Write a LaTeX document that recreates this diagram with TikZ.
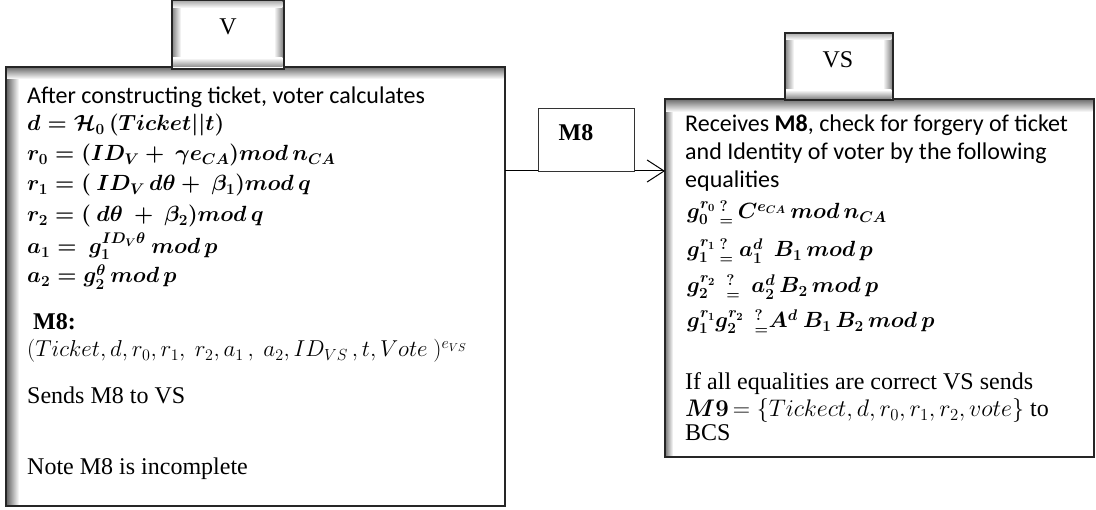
\RequirePackage{fix-cm}
\documentclass[tikz,border=0pt]{standalone}
\usepackage{amsmath}
\usepackage{fontspec}
\setmainfont{Liberation Serif}
\newfontfamily\calib{Carlito}
\usetikzlibrary{arrows.meta}
\begin{document}
\begin{tikzpicture}[x=1pt,y=-1pt,
  box/.style={draw=black!85, line width=1.3pt, fill=white, inner sep=0pt, anchor=north west},
  lbl/.style={draw=black!80, line width=0.9pt, fill=white, inner sep=0pt, anchor=north west},
  txt/.style={anchor=base west, inner sep=0pt},
  mth/.style={txt, font=\fontsize{22}{26}\selectfont\boldmath},
  cal/.style={txt, font=\fontsize{24}{28}\selectfont\calib},
  tnr/.style={txt, font=\fontsize{24}{28}\selectfont},
  tup/.style={txt, font=\fontsize{23}{26}\selectfont}]
\useasboundingbox (0,0) rectangle (1096,510);

% left big box
\node[box, minimum width=498pt, minimum height=438pt] (lb) at (6,67) {};
\shade[left color=black!60, right color=white] (6.7,67.7) rectangle (19,504.3);
\shade[top color=black!55, bottom color=white] (6.7,67.7) rectangle (503.3,79);
\draw[black!85, line width=1.3pt] (lb.north west) rectangle (lb.south east);

% V box
\node[box, minimum width=111pt, minimum height=67pt] (vb) at (172,0.7) {};
\shade[left color=black!45, right color=white] (172.7,1.4) rectangle (181,67);
\shade[right color=black!45, left color=white] (274,1.4) rectangle (282.3,67);
\shade[top color=black!30, bottom color=white] (172.7,1.4) rectangle (282.3,8);
\shade[bottom color=black!45, top color=white] (172.7,58) rectangle (282.3,67);
\draw[black!85, line width=1.3pt] (vb.north west) rectangle (vb.south east);
\node[font=\fontsize{24}{28}\selectfont, inner sep=0pt] (vt) at (228,27) {V};

% right big box
\node[box, minimum width=428pt, minimum height=357pt] (rb) at (665,99) {};
\shade[left color=black!50, right color=white] (665.7,99.7) rectangle (673,455.3);
\shade[top color=black!55, bottom color=white] (665.7,99.7) rectangle (1092.3,112);
\draw[black!85, line width=1.3pt] (rb.north west) rectangle (rb.south east);

% VS box
\node[box, minimum width=107pt, minimum height=66pt] (vsb) at (785,33) {};
\shade[left color=black!45, right color=white] (785.7,33.7) rectangle (794,98.3);
\shade[right color=black!45, left color=white] (883,33.7) rectangle (891.3,98.3);
\shade[top color=black!30, bottom color=white] (785.7,33.7) rectangle (891.3,40);
\shade[bottom color=black!45, top color=white] (785.7,90) rectangle (891.3,98.3);
\draw[black!85, line width=1.3pt] (vsb.north west) rectangle (vsb.south east);
\node[font=\fontsize{24}{28}\selectfont, inner sep=0pt] (vst) at (838,60) {VS};

% connector
\coordinate (m8y) at (0,171);
\draw[line width=1pt, -{Straight Barb[length=17pt,width=22pt,line width=1pt]}] (lb.east |- m8y) -- (rb.west |- m8y);
\node[lbl, minimum width=96pt, minimum height=63pt] (m8b) at (538,108) {};
\node[font=\fontsize{24}{28}\selectfont\bfseries, inner sep=0pt] (m8t) at (576,133) {M8};

% left text
\node[cal] (t1) at (27,104) {After constructing ticket, voter calculates};
\node[mth] (t2) at (27,131) {$d = \mathcal{H}_0\,(Ticket||t)$};
\node[mth] (t3) at (27,161) {$r_0 = (ID_V +\ \gamma e_{CA}) mod\, n_{CA}$};
\node[mth] (t4) at (27,191) {$r_1 = (\ ID_V\, d\theta +\ \beta_1) mod\, q$};
\node[mth] (t5) at (27,222) {$r_2 = (\ d\theta\ +\ \beta_2) mod\, q$};
\node[mth] (t6) at (27,254) {$a_1 =\ g_1^{ID_V\theta}\ mod\, p$};
\node[mth] (t7) at (27,283) {$a_2 = g_2^{\theta}\, mod\, p$};
\node[txt, font=\fontsize{24}{28}\selectfont\bfseries] (t8) at (33,330) {M8:};
\node[tup] (t9) at (27,357) {$(Ticket, d, r_0, r_1,\ r_2, a_1\,,\ a_2, ID_{VS}\,, t, Vote\ )^{e_{VS}}$};
\node[tnr] (t10) at (27,404) {Sends M8 to VS};
\node[tnr] (t11) at (27,475) {Note M8 is incomplete};

% right text
\node[cal] (s1) at (685,132) {Receives \textbf{M8}, check for forgery of ticket};
\node[cal] (s2) at (685,160) {and Identity of voter by the following};
\node[cal] (s3) at (685,188) {equalities};
\node[mth] (s4) at (687,219) {$g_0^{r_0}\,{}^{?}_{=}\,C^{e_{CA}}\, mod\, n_{CA}$};
\node[mth] (s5) at (687,257) {$g_1^{r_1}\,{}^{?}_{=}\ a_1^d\ \ B_1\, mod\, p$};
\node[mth] (s6) at (687,293) {$g_2^{r_2}\ \ {}^{?}_{=}\ \ a_2^d\, B_2\, mod\, p$};
\node[mth] (s7) at (687,328) {$g_1^{r_1} g_2^{r_2}\ \ {}^{?}_{=} A^d\ B_1\, B_2\, mod\, p$};
\node[tnr] (s8) at (685,390) {If all equalities are correct VS sends};
\node[tnr] (s9) at (685,417) {{\boldmath$M9$}$\,= \{Tickect, d, r_0, r_1, r_2, vote\}$ to};
\node[tnr] (s10) at (685,441) {BCS};
\end{tikzpicture}
\end{document}
